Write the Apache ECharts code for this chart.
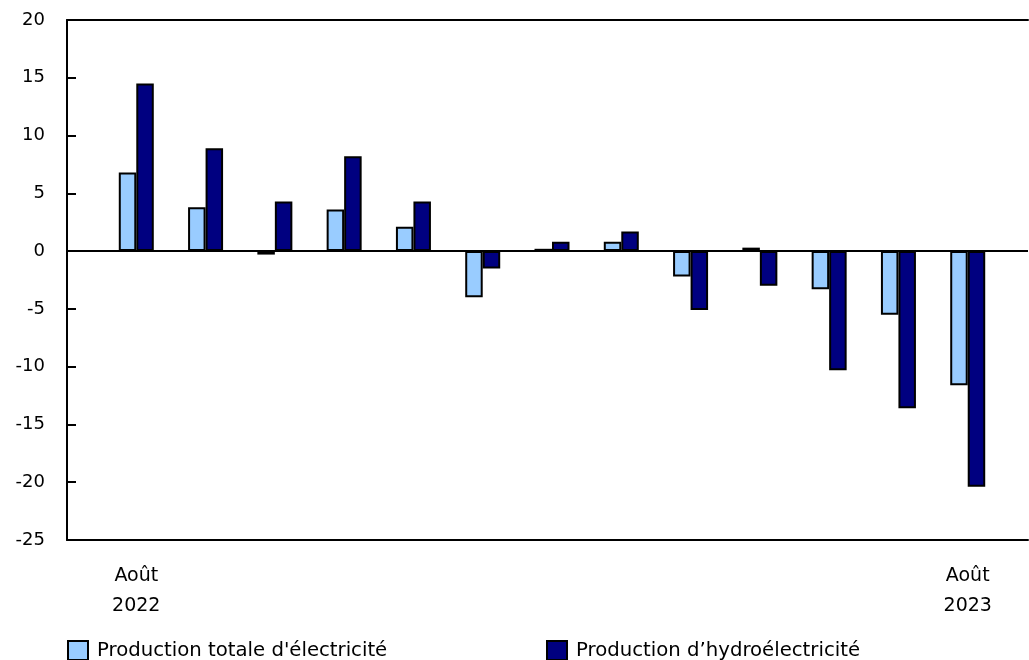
<!DOCTYPE html>
<html>
<head>
<meta charset="utf-8">
<script src="https://cdn.jsdelivr.net/npm/echarts@6/dist/echarts.min.js"></script>
<style>
html,body{margin:0;padding:0;background:#fff;}
#chart{width:1029px;height:660px;}
</style>
</head>
<body>
<div id="chart"></div>
<script>
var months = ["Août 2022","Septembre 2022","Octobre 2022","Novembre 2022","Décembre 2022","Janvier 2023","Février 2023","Mars 2023","Avril 2023","Mai 2023","Juin 2023","Juillet 2023","Août 2023"];
var tickLabels = {0: "Août\n2022", 12: "Août\n2023"};
var seriesNames = ["Production totale d'électricité", "Production d’hydroélectricité"];
var totalValues = [6.8, 3.8, -0.3, 3.6, 2.1, -4.0, 0.2, 0.8, -2.2, 0.3, -3.3, -5.5, -11.6];
var hydroValues = [14.5, 8.9, 4.3, 8.2, 4.3, -1.5, 0.8, 1.7, -5.1, -3.0, -10.3, -13.6, -20.4];
var yTicks = {min: -25, max: 20, interval: 5};

var FONT = "DejaVu Sans";
function pairs(arr){ return arr.map(function(v,i){ return [i, v]; }); }

var chart = echarts.init(document.getElementById('chart'), null, {renderer:'canvas'});
var option = {
  animation: false,
  backgroundColor: '#fff',
  textStyle: {fontFamily: FONT, color: '#000'},
  grid: {left: 67, right: 1, top: 20, bottom: 120, containLabel: false},
  xAxis: [{
    type: 'value', min: -1, max: 12.87, position: 'bottom',
    axisLine: {show: true, onZero: false, lineStyle: {color: '#000', width: 2}},
    axisTick: {show: false},
    splitLine: {show: false},
    axisLabel: {
      show: true, customValues: [0, 12], margin: 21,
      fontFamily: FONT, fontSize: 19, color: '#000', lineHeight: 30,
      formatter: function(v){ return tickLabels[Math.round(v)] || ''; }
    }
  },{
    type: 'value', min: -1, max: 12.87, position: 'top',
    axisLine: {show: true, onZero: false, lineStyle: {color: '#000', width: 2}},
    axisTick: {show: false}, axisLabel: {show: false}, splitLine: {show: false}
  }],
  yAxis: {
    type: 'value', min: yTicks.min, max: yTicks.max, interval: yTicks.interval,
    axisLine: {show: true, onZero: false, lineStyle: {color: '#000', width: 2}},
    axisTick: {show: true, inside: true, length: 9, lineStyle: {color: '#000', width: 2}},
    splitLine: {show: false},
    axisLabel: {fontFamily: FONT, fontSize: 18, color: '#000', margin: 22}
  },
  legend: [{
    data: [seriesNames[0]], left: 67, top: 640, itemWidth: 20, itemHeight: 19,
    icon: 'rect', padding: 0,
    textStyle: {fontFamily: FONT, fontSize: 19.7, color: '#000', padding: [0,0,0,4]}
  },{
    data: [seriesNames[1]], left: 546, top: 640, itemWidth: 20, itemHeight: 19,
    icon: 'rect', padding: 0,
    textStyle: {fontFamily: FONT, fontSize: 19.7, color: '#000', padding: [0,0,0,4]}
  }],
  series: [{
    name: seriesNames[0], type: 'bar', data: pairs(totalValues),
    barWidth: 17.5, barGap: '0%',
    itemStyle: {color: '#99ccff', borderColor: '#000', borderWidth: 2},
    markLine: {
      silent: true, symbol: 'none', label: {show: false},
      lineStyle: {color: '#000', width: 2, type: 'solid'},
      data: [{yAxis: 0}], z: 10
    }
  },{
    name: seriesNames[1], type: 'bar', data: pairs(hydroValues),
    barWidth: 17.5, barGap: '0%',
    itemStyle: {color: '#000080', borderColor: '#000', borderWidth: 2}
  }]
};
chart.setOption(option);
</script>
</body>
</html>
